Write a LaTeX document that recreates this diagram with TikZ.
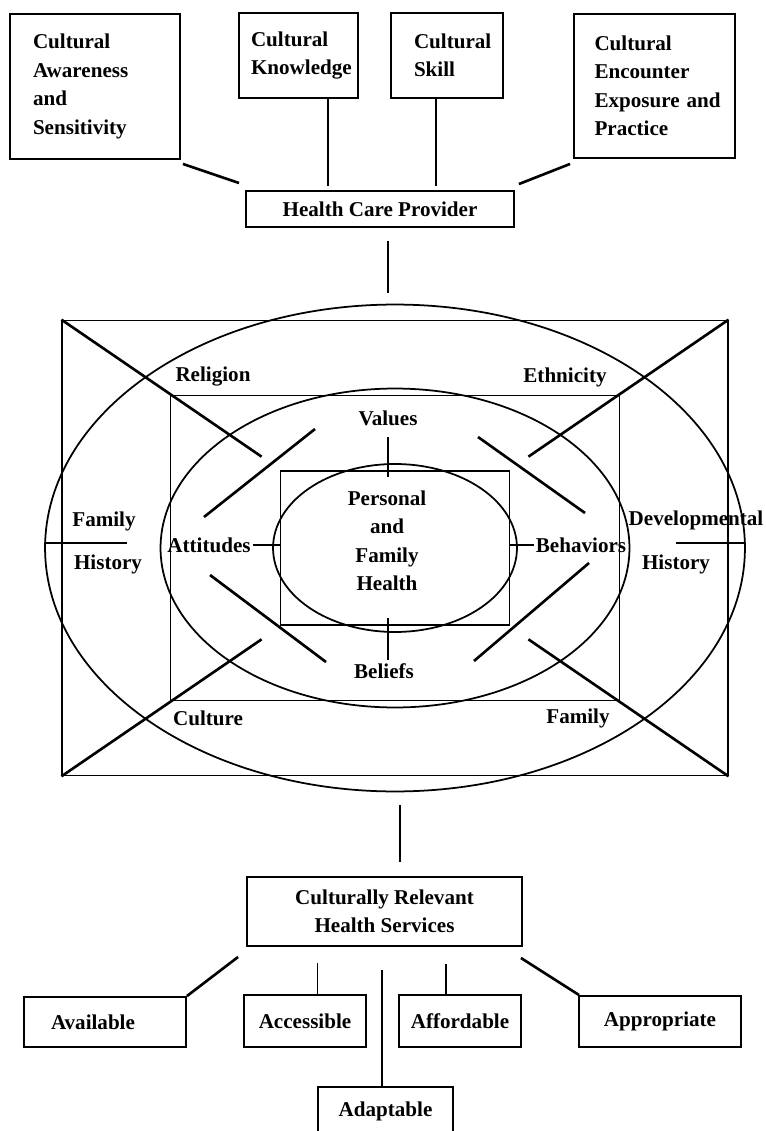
\documentclass[tikz,border=0pt]{standalone}
\usepackage{fontspec}
\setmainfont{Liberation Serif}
\usetikzlibrary{shapes.geometric,calc}
\hyphenpenalty=10000

\begin{document}
\begin{tikzpicture}[x=0.02cm,y=-0.02cm,
  box/.style={draw,line width=1.1pt,inner sep=0pt,
    font=\fontsize{12}{16.2}\selectfont\bfseries},
  topbox/.style={box,align=left},
  ring/.style={draw,line width=1pt,inner sep=0pt},
  lbl/.style={inner sep=1pt,font=\fontsize{12}{16.2}\selectfont\bfseries},
  link/.style={line width=1pt},
  diag/.style={line width=1.5pt}
]
\useasboundingbox (0,0) rectangle (765,1131);

\node[topbox,minimum width=3.4cm,minimum height=2.9cm,text width=2.48cm] (aware)
  at (95,86.5) {Cultural\\Awareness\\and\\Sensitivity};
\node[topbox,minimum width=2.38cm,minimum height=1.7cm,text width=1.9cm] (know)
  at (298.5,55.5) {Cultural\\Knowledge};
\node[topbox,minimum width=2.24cm,minimum height=1.7cm,text width=1.32cm] (skill)
  at (447,55.5) {Cultural\\Skill};
\node[topbox,minimum width=3.22cm,minimum height=2.88cm,text width=2.4cm] (encount)
  at (654.5,86) {Cultural\\Encounter\\Exposure~and\\Practice};
\node[box,minimum width=5.36cm,minimum height=0.72cm] (hcp)
  at (380,209) {Health Care Provider};

\coordinate (c) at (395,548);
\node[ring,ellipse,minimum width=14cm,minimum height=9.74cm] (oell) at (c) {};
\node[ring,minimum width=13.31cm,minimum height=9.1cm] (orect) at (c) {};
\node[ring,ellipse,minimum width=9.38cm,minimum height=6.38cm] (mell) at (c) {};
\node[ring,minimum width=8.98cm,minimum height=6.1cm] (mrect) at (c) {};
\node[ring,ellipse,minimum width=4.88cm,minimum height=3.36cm] (iell) at (c) {};
\node[ring,minimum width=4.58cm,minimum height=3.08cm] (irect) at (c) {};

\node[lbl] (relig)    at (213,377) {Religion};
\node[lbl] (ethn)     at (565,377) {Ethnicity};
\node[lbl] (values)   at (388,418) {Values};
\node[lbl] (attit)    at (209,545) {Attitudes};
\node[lbl] (behav)    at (581,545) {Behaviors};
\node[lbl] (beliefs)  at (384,671) {Beliefs};
\node[lbl] (culture)  at (208,718) {Culture};
\node[lbl] (family)   at (578,718) {Family};
\node[lbl] (famhist)  at (104,521) {Family};
\node[lbl] (famhist2) at (108,564) {History};
\node[lbl] (devhist)  at (696,520) {Developmental};
\node[lbl] (devhist2) at (676,564) {History};
\node[lbl,align=center] (core) at (387,541) {Personal\\and\\Family\\Health};

\foreach \a/\b in {north west/south east,north east/south west,
                   south west/north east,south east/north west}
  \draw[diag] (orect.\a) -- ($(orect.\a)!0.3!(orect.\b)$);
\foreach \xa/\ya/\xb/\yb in {315/429/204/517,478/437/585/513,
                             210/575/326/662,589/563/474/661}
  \draw[diag] (\xa,\ya) -- (\xb,\yb);

\draw[link] ([shift={(0,9)}]values.south) -- ([shift={(0,7)}]values.south |- irect.north);
\draw[link] ([shift={(4,-1)}]beliefs.north) -- ([shift={(4,-8)}]beliefs.north |- irect.south);
\draw[link] (attit.east) -- (attit.east -| irect.west);
\draw[link] (behav.west) -- (behav.west -| irect.east);
\draw[link] ([shift={(0,-5)}]oell.west) -- ++(83,0);
\draw[link] ([shift={(0,-5)}]oell.east) -- ++(-70,0);

\draw[diag] ([shift={(2,4)}]aware.south east) -- ([shift={(-6,-7)}]hcp.north west);
\draw[link] ([shift={(29.5,0)}]know.south) -- ([shift={(29.5,-4)}]know.south |- hcp.north);
\draw[link] ([shift={(-11,0)}]skill.south) -- ([shift={(-11,-4)}]skill.south |- hcp.north);
\draw[diag] ([shift={(-3,5)}]encount.south west) -- ([shift={(4,-6)}]hcp.north east);
\draw[link] ([shift={(8,13)}]hcp.south) -- ([shift={(8,-11)}]hcp.south |- oell.north);

\node[box,align=center,minimum width=5.5cm,minimum height=1.38cm] (crhs)
  at (384.5,911.5) {Culturally Relevant\\Health Services};
\draw[link] ([shift={(15.5,13)}]crhs.north |- oell.south) -- ([shift={(15.5,-14)}]crhs.north);

\node[box,align=left,text width=2.16cm,minimum width=3.24cm,minimum height=1cm] (avail)
  at (105,1022) {Available};
\node[box,minimum width=2.44cm,minimum height=1.04cm] (access) at (305,1021) {Accessible};
\node[box,minimum width=2.44cm,minimum height=1.04cm] (afford) at (460,1021) {Affordable};
\node[box,minimum width=3.24cm,minimum height=1.02cm] (approp) at (660,1021.5) {Appropriate};
\node[box,minimum width=2.7cm,minimum height=0.96cm] (adapt) at (385.5,1111) {Adaptable};

\draw[diag] ([shift={(-8,10)}]crhs.south west) -- (avail.north east);
\draw[link] ([shift={(12.5,0)}]access.north) -- ([shift={(12.5,16)}]access.north |- crhs.south);
\draw[link] ([shift={(-3.5,0)}]adapt.north) -- ([shift={(-3.5,23)}]adapt.north |- crhs.south);
\draw[link] ([shift={(-14,0)}]afford.north) -- ([shift={(-14,17)}]afford.north |- crhs.south);
\draw[diag] ([shift={(-2,11)}]crhs.south east) -- ([shift={(1,0)}]approp.north west);
\end{tikzpicture}
\end{document}
